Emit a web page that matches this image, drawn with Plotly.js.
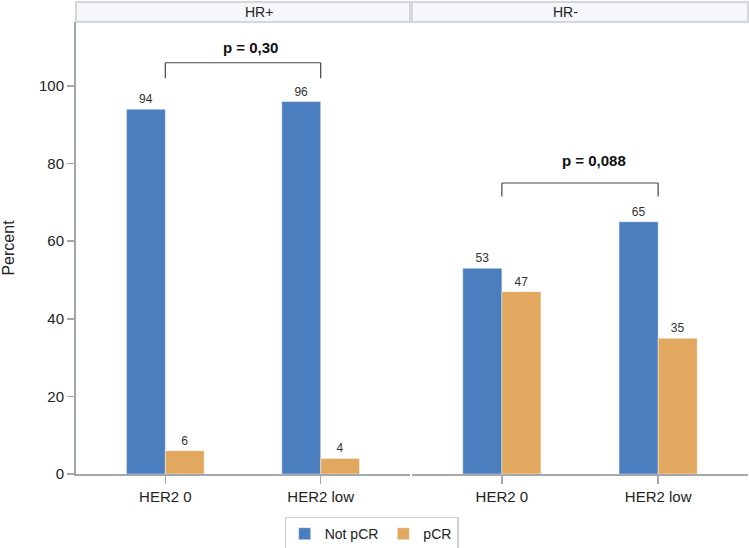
<!DOCTYPE html>
<html>
<head>
<meta charset="utf-8">
<script src="https://cdn.plot.ly/plotly-3.0.1.min.js"></script>
<style>html,body{margin:0;padding:0;background:#fff;}#chart{width:749px;height:548px;}</style>
</head>
<body>
<div id="chart"></div>
<script>
// ---- data ----
const panels = ["HR+", "HR-"];
const categories = ["HER2 0", "HER2 low"];
const notPCR_HRpos = [94, 96];
const pCR_HRpos = [6, 4];
const notPCR_HRneg = [53, 65];
const pCR_HRneg = [47, 35];
const seriesNames = ["Not pCR", "pCR"];
const pValues = ["p = 0,30", "p = 0,088"];
const bracketTop = [106, 75];
const bracketBottom = [102, 71.5];
const pLabelY = [110, 80.7];
const yTickVals = [0, 20, 40, 60, 80, 100];
const yTickText = ["0", "20", "40", "60", "80", "100"];

const blue = "#4a7ebf";
const orange = "#e2a85f";
const axisGray = "#a3a8ad";
const FONT = "Liberation Sans, Arial, sans-serif";

function barTrace(name, vals, color, xa, showLegend) {
  return {
    type: "bar", name: name, x: categories, y: vals,
    xaxis: xa, yaxis: "y",
    marker: {color: color, line: {color: "rgba(255,255,255,0.5)", width: 0.8}},
    text: vals.map(String), textposition: "outside",
    textfont: {family: FONT, size: 12, color: "#333"},
    cliponaxis: false, showlegend: showLegend, legendgroup: name
  };
}

const data = [
  barTrace(seriesNames[0], notPCR_HRpos, blue, "x", true),
  barTrace(seriesNames[1], pCR_HRpos, orange, "x", true),
  barTrace(seriesNames[0], notPCR_HRneg, blue, "x2", false),
  barTrace(seriesNames[1], pCR_HRneg, orange, "x2", false)
];

const plotW = 749 - 76 - 1;
const d1 = 334 / plotW;
const d2 = 336 / plotW;
const stripH = 20 / 452;

const xCommon = {
  type: "category", range: [-0.575, 1.575], showline: true, linecolor: axisGray, linewidth: 2,
  ticks: "outside", ticklen: 8, tickcolor: axisGray, tickwidth: 1.5,
  tickfont: {family: FONT, size: 15, color: "#222"}, showgrid: false, zeroline: false,
  fixedrange: true
};

const shapes = [];
const annotations = [];
const xrefs = ["x", "x2"];
const doms = [[0, d1], [d2, 1]];
for (let i = 0; i < 2; i++) {
  shapes.push({type: "rect", xref: "paper", yref: "paper", x0: doms[i][0], x1: doms[i][1],
    y0: 1, y1: 1 + stripH, fillcolor: "#f6f7fb", line: {color: "#c9cbcf", width: 1.5}, layer: "above"});
  annotations.push({xref: "paper", yref: "paper", x: (doms[i][0] + doms[i][1]) / 2, y: 1 + stripH / 2,
    text: panels[i], showarrow: false, yanchor: "middle", font: {family: FONT, size: 14, color: "#222"}});
  const lc = {color: "#444", width: 1.2};
  shapes.push({type: "line", xref: xrefs[i], yref: "y", x0: 0, x1: 1, y0: bracketTop[i], y1: bracketTop[i], line: lc});
  shapes.push({type: "line", xref: xrefs[i], yref: "y", x0: 0, x1: 0, y0: bracketTop[i], y1: bracketBottom[i], line: lc});
  shapes.push({type: "line", xref: xrefs[i], yref: "y", x0: 1, x1: 1, y0: bracketTop[i], y1: bracketBottom[i], line: lc});
  annotations.push({xref: xrefs[i], yref: "y", x: i === 0 ? 0.55 : 0.59, y: pLabelY[i],
    text: "<b>" + pValues[i] + "</b>", showarrow: false, yanchor: "middle",
    font: {family: FONT, size: 15, color: "#111"}});
}

const layout = {
  width: 749, height: 548,
  margin: {l: 76, r: 1, t: 22, b: 74, autoexpand: false},
  paper_bgcolor: "#fff", plot_bgcolor: "#fff",
  barmode: "group", bargap: 0.5, bargroupgap: 0,
  font: {family: FONT},
  xaxis: Object.assign({}, xCommon, {domain: [0, d1]}),
  xaxis2: Object.assign({}, xCommon, {domain: [d2, 1], anchor: "y"}),
  yaxis: {
    range: [0, 116.5], tickvals: yTickVals, ticktext: yTickText,
    showline: true, linecolor: axisGray, linewidth: 2,
    ticks: "outside", ticklen: 7, tickcolor: axisGray, tickwidth: 1.5,
    tickfont: {family: FONT, size: 15, color: "#222"},
    showgrid: false, zeroline: false, fixedrange: true,
    title: {text: "Percent", font: {family: FONT, size: 16, color: "#222"}, standoff: 20}
  },
  legend: {orientation: "h", x: 0.44, xanchor: "center", y: -0.133, yanchor: "middle",
    bordercolor: "#cfcfcf", borderwidth: 1.5, font: {family: FONT, size: 14, color: "#222"},
    itemwidth: 30, tracegroupgap: 0},
  shapes: shapes,
  annotations: annotations
};

Plotly.newPlot("chart", data, layout, {displayModeBar: false, staticPlot: true});
</script>
</body>
</html>
